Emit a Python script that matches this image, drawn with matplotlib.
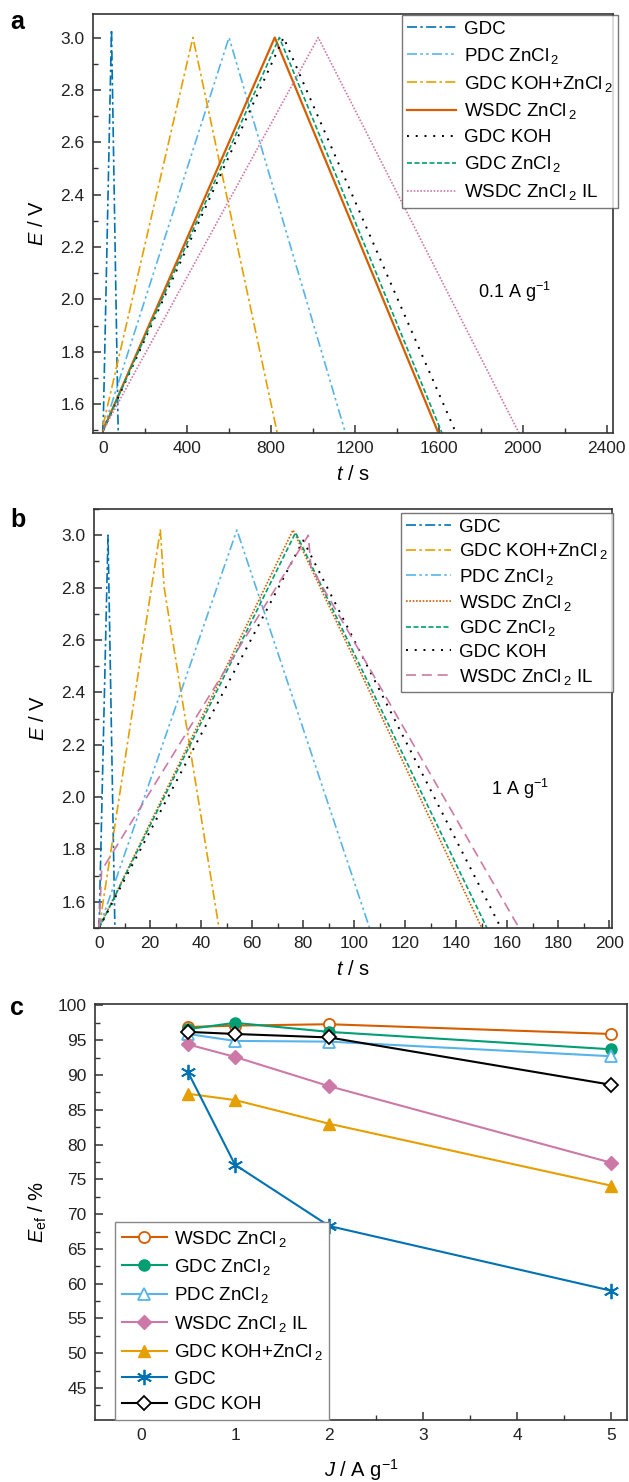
import numpy as np
import matplotlib
matplotlib.use('Agg')
import matplotlib.pyplot as plt
from matplotlib.ticker import MultipleLocator

plt.rcParams['font.family'] = ['Liberation Sans', 'DejaVu Sans']
plt.rcParams['mathtext.fontset'] = 'custom'
plt.rcParams['mathtext.rm'] = 'Liberation Sans'
plt.rcParams['mathtext.it'] = 'Liberation Sans:italic'
plt.rcParams['mathtext.bf'] = 'Liberation Sans:bold'

# Okabe-Ito style colours
c_gdc = '#0072B2'
c_pdc = '#56B4E9'
c_kz = '#E69F00'
c_wsdc = '#D55E00'
c_koh = '#000000'
c_gz = '#009E73'
c_il = '#CC79A7'

lab_gdc = 'GDC'
lab_pdc = 'PDC ZnCl$_{\,2}$'
lab_kz = 'GDC KOH+ZnCl$_{\,2}$'
lab_wsdc = 'WSDC ZnCl$_{\,2}$'
lab_koh = 'GDC KOH'
lab_gz = 'GDC ZnCl$_{\,2}$'
lab_il = 'WSDC ZnCl$_{\,2}$ IL'

# ---- panel a: 0.1 A/g galvanostatic curves (t in s, E in V)
gdc_a_t = [0, 40, 72]
gdc_a_E = [1.50, 3.03, 1.49]
pdc_a_t = [0, 600, 1155]
pdc_a_E = [1.50, 3.00, 1.49]
kz_a_t = [0, 428, 830]
kz_a_E = [1.52, 3.00, 1.49]
wsdc_a_t = [0, 818, 1598]
wsdc_a_E = [1.50, 3.00, 1.49]
koh_a_t = [0, 860, 1682]
koh_a_E = [1.50, 3.00, 1.49]
gz_a_t = [0, 840, 1615]
gz_a_E = [1.50, 3.00, 1.49]
il_a_t = [0, 1025, 1982]
il_a_E = [1.50, 3.00, 1.49]

# ---- panel b: 1 A/g
gdc_b_t = [0, 3.5, 6.2]
gdc_b_E = [1.50, 3.00, 1.50]
kz_b_t = [0, 24, 25.5, 47]
kz_b_E = [1.50, 3.02, 2.80, 1.50]
pdc_b_t = [0, 54, 106]
pdc_b_E = [1.50, 3.02, 1.50]
wsdc_b_t = [0, 76, 150]
wsdc_b_E = [1.50, 3.02, 1.50]
gz_b_t = [0, 77, 152]
gz_b_E = [1.50, 3.01, 1.50]
koh_b_t = [0, 80, 157.5]
koh_b_E = [1.50, 2.98, 1.50]
il_b_t = [0, 1, 82, 83, 164.6]
il_b_E = [1.50, 1.72, 3.00, 2.88, 1.50]

# ---- panel c: energy efficiency vs current density
J = [0.5, 1, 2, 5]
eff_wsdc = [96.9, 97.1, 97.3, 95.9]
eff_gz = [96.6, 97.5, 96.2, 93.7]
eff_pdc = [95.9, 94.9, 94.8, 92.7]
eff_il = [94.4, 92.6, 88.4, 77.4]
eff_kz = [87.3, 86.4, 83.0, 74.1]
eff_gdc = [90.4, 77.1, 68.3, 59.0]
eff_koh = [96.2, 95.9, 95.4, 88.6]

ls_dashdot = (0, (6, 2, 1.5, 2))
ls_dashdotdot = (0, (6, 2, 1.5, 2, 1.5, 2))
ls_dot = (0, (1, 3.5))
ls_densedot = (0, (1, 1))
ls_dash = (0, (3, 1.5))
ls_longdash = (0, (6, 3.5))

fig = plt.figure(figsize=(6.29, 14.82), dpi=100)
spine_col = '#333333'
tick_fs = 12.5
lab_fs = 14.5
leg_fs = 13.5


def style_axes(ax):
    for s in ax.spines.values():
        s.set_linewidth(1.2)
        s.set_color(spine_col)
    ax.tick_params(which='both', direction='in', top=False, right=False,
                   labelsize=tick_fs, colors=spine_col, labelcolor='#222222')
    ax.tick_params(which='major', length=6, width=1.1, pad=6)
    ax.tick_params(which='minor', length=3.5, width=1.0)


# ================= panel a
ax1 = fig.add_axes([0.1479, 0.7078, 0.8267, 0.2828])
lw = 1.2
ax1.plot(gdc_a_t, gdc_a_E, color=c_gdc, ls=ls_dashdot, lw=lw, label=lab_gdc)
ax1.plot(pdc_a_t, pdc_a_E, color=c_pdc, ls=ls_dashdotdot, lw=lw, label=lab_pdc)
ax1.plot(kz_a_t, kz_a_E, color=c_kz, ls=ls_dashdot, lw=lw, label=lab_kz)
ax1.plot(wsdc_a_t, wsdc_a_E, color=c_wsdc, ls='-', lw=1.6, label=lab_wsdc)
ax1.plot(koh_a_t, koh_a_E, color=c_koh, ls=ls_dot, lw=1.4, label=lab_koh)
ax1.plot(gz_a_t, gz_a_E, color=c_gz, ls=ls_dash, lw=lw, label=lab_gz)
ax1.plot(il_a_t, il_a_E, color=c_il, ls=ls_densedot, lw=lw, label=lab_il)
ax1.set_xlim(-48, 2430)
ax1.set_ylim(1.49, 3.09)
ax1.xaxis.set_major_locator(MultipleLocator(400))
ax1.xaxis.set_minor_locator(MultipleLocator(200))
ax1.yaxis.set_major_locator(MultipleLocator(0.2))
ax1.yaxis.set_minor_locator(MultipleLocator(0.1))
ax1.yaxis.set_major_formatter(plt.FormatStrFormatter('%.1f'))
style_axes(ax1)
ax1.set_xlabel('$t$ / s', fontsize=lab_fs, labelpad=6)
ax1.set_ylabel('$E$ / V', fontsize=lab_fs, labelpad=10)
ax1.text(1960, 2.03, '0.1 A g$^{-1}$', fontsize=13, ha='center', va='center')
leg1 = ax1.legend(loc='upper right', bbox_to_anchor=(618 / 629, 1 - 15 / 1482),
                  bbox_transform=fig.transFigure, fontsize=leg_fs, frameon=True,
                  fancybox=False, edgecolor='#555555', handlelength=2.6,
                  handletextpad=0.4, labelspacing=0.42, borderpad=0.3,
                  borderaxespad=0)
leg1.get_frame().set_linewidth(1.0)

# ================= panel b
ax2 = fig.add_axes([0.1494, 0.3738, 0.8236, 0.2827])
ax2.plot(gdc_b_t, gdc_b_E, color=c_gdc, ls=ls_dashdot, lw=lw, label=lab_gdc)
ax2.plot(kz_b_t, kz_b_E, color=c_kz, ls=ls_dashdot, lw=lw, label=lab_kz)
ax2.plot(pdc_b_t, pdc_b_E, color=c_pdc, ls=ls_dashdotdot, lw=lw, label=lab_pdc)
ax2.plot(wsdc_b_t, wsdc_b_E, color=c_wsdc, ls=ls_densedot, lw=lw, label=lab_wsdc)
ax2.plot(gz_b_t, gz_b_E, color=c_gz, ls=ls_dash, lw=lw, label=lab_gz)
ax2.plot(koh_b_t, koh_b_E, color=c_koh, ls=ls_dot, lw=1.4, label=lab_koh)
ax2.plot(il_b_t, il_b_E, color=c_il, ls=ls_longdash, lw=lw, label=lab_il)
ax2.set_xlim(-2, 201)
ax2.set_ylim(1.5, 3.1)
ax2.xaxis.set_major_locator(MultipleLocator(20))
ax2.xaxis.set_minor_locator(MultipleLocator(10))
ax2.yaxis.set_major_locator(MultipleLocator(0.2))
ax2.yaxis.set_minor_locator(MultipleLocator(0.1))
ax2.yaxis.set_major_formatter(plt.FormatStrFormatter('%.1f'))
style_axes(ax2)
ax2.set_xlabel('$t$ / s', fontsize=lab_fs, labelpad=6)
ax2.set_ylabel('$E$ / V', fontsize=lab_fs, labelpad=10)
ax2.text(165, 2.03, '1 A g$^{-1}$', fontsize=13, ha='center', va='center')
leg2 = ax2.legend(loc='upper right', bbox_to_anchor=(613 / 629, 1 - 513 / 1482),
                  bbox_transform=fig.transFigure, fontsize=leg_fs, frameon=True,
                  fancybox=False, edgecolor='#555555', handlelength=2.4,
                  handletextpad=0.4, labelspacing=0.3, borderpad=0.3,
                  borderaxespad=0)
leg2.get_frame().set_linewidth(1.0)

# ================= panel c
ax3 = fig.add_axes([0.1510, 0.0418, 0.8458, 0.2807])
mk = dict(lw=1.5, markersize=8)
ax3.plot(J, eff_wsdc, color=c_wsdc, marker='o', mfc='white', mec=c_wsdc,
         mew=1.3, label=lab_wsdc, **mk)
ax3.plot(J, eff_gz, color=c_gz, marker='o', mfc=c_gz, mec=c_gz,
         label=lab_gz, **mk)
ax3.plot(J, eff_pdc, color=c_pdc, marker='^', mfc='white', mec=c_pdc,
         mew=1.3, label=lab_pdc, **mk)
ax3.plot(J, eff_il, color=c_il, marker='D', mfc=c_il, mec=c_il,
         label=lab_il, lw=1.5, markersize=7.5)
ax3.plot(J, eff_kz, color=c_kz, marker='^', mfc=c_kz, mec=c_kz,
         label=lab_kz, lw=1.5, markersize=9)
ax3.plot(J, eff_gdc, color=c_gdc, marker=(6, 2, 0), mec=c_gdc, mew=1.3,
         label=lab_gdc, lw=1.5, markersize=11)
ax3.plot(J, eff_koh, color=c_koh, marker='D', mfc='white', mec=c_koh,
         mew=1.3, label=lab_koh, lw=1.5, markersize=7.5)
ax3.set_xlim(-0.49, 5.17)
ax3.set_ylim(40.4, 100.2)
ax3.xaxis.set_major_locator(MultipleLocator(1))
ax3.xaxis.set_minor_locator(MultipleLocator(0.5))
ax3.yaxis.set_major_locator(MultipleLocator(5))
ax3.yaxis.set_minor_locator(MultipleLocator(2.5))
ax3.set_yticks(np.arange(45, 101, 5))
style_axes(ax3)
ax3.set_xlabel('$J$ / A g$^{-1}$', fontsize=lab_fs, labelpad=10)
ax3.set_ylabel(r'$E_{\mathrm{ef}}$ / %', fontsize=lab_fs, labelpad=6)
leg3 = ax3.legend(loc='lower left', bbox_to_anchor=(115 / 629, 1 - 1420 / 1482),
                  bbox_transform=fig.transFigure, fontsize=leg_fs, frameon=True,
                  fancybox=False, edgecolor='#888888', handlelength=2.4,
                  handletextpad=0.4, labelspacing=0.45, borderpad=0.35,
                  borderaxespad=0, framealpha=1)
leg3.get_frame().set_linewidth(1.0)

fig.text(10 / 629, 1 - 22 / 1482, 'a', fontsize=18, fontweight='bold', va='center')
fig.text(10 / 629, 1 - 520 / 1482, 'b', fontsize=18, fontweight='bold', va='center')
fig.text(10 / 629, 1 - 1008 / 1482, 'c', fontsize=18, fontweight='bold', va='center')

fig.savefig('out.png', dpi=100)
